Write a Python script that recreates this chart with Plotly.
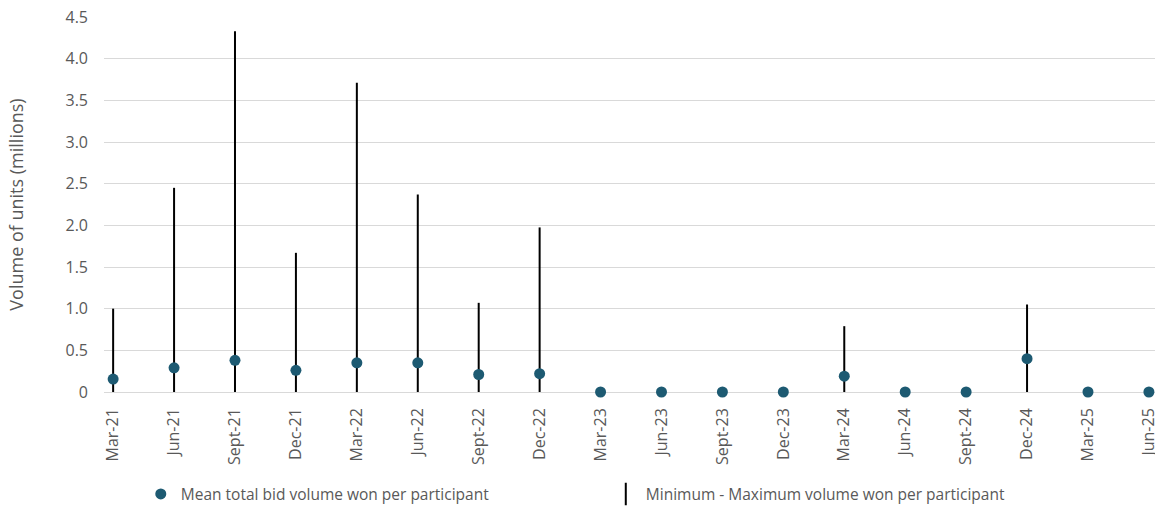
import plotly.graph_objects as go

categories = ["Mar-21", "Jun-21", "Sept-21", "Dec-21", "Mar-22", "Jun-22", "Sept-22", "Dec-22",
              "Mar-23", "Jun-23", "Sept-23", "Dec-23", "Mar-24", "Jun-24", "Sept-24", "Dec-24",
              "Mar-25", "Jun-25"]
mean_vol = [0.155, 0.29, 0.38, 0.26, 0.35, 0.35, 0.21, 0.22,
            0.0, 0.0, 0.0, 0.0, 0.19, 0.0, 0.0, 0.40, 0.0, 0.0]
min_vol = [0.0] * 18
max_vol = [1.0, 2.45, 4.33, 1.67, 3.71, 2.37, 1.07, 1.975,
           0.0, 0.0, 0.0, 0.0, 0.79, 0.0, 0.0, 1.05, 0.0, 0.0]

FONT = "Open Sans"
GREY = "#595959"
TEAL = "#1D5A72"

# build min-max segments from the arrays
seg_x, seg_y = [], []
for c, lo, hi in zip(categories, min_vol, max_vol):
    seg_x += [c, c, None]
    seg_y += [lo, hi, None]

fig = go.Figure()
fig.add_trace(go.Scatter(
    x=seg_x, y=seg_y, mode="lines",
    line=dict(color="black", width=2),
    showlegend=False, hoverinfo="skip", cliponaxis=False,
))
fig.add_trace(go.Scatter(
    x=categories, y=mean_vol, mode="markers",
    marker=dict(color=TEAL, size=11),
    name="Mean total bid volume won per participant",
    cliponaxis=False,
))
# legend entry for min-max lines
fig.add_trace(go.Scatter(
    x=[None], y=[None], mode="markers",
    marker=dict(symbol="line-ns", size=16, line=dict(color="black", width=2)),
    name="Minimum - Maximum volume won per participant",
))

fig.update_layout(
    width=1155, height=512,
    margin=dict(l=104, r=0, t=17, b=118),
    paper_bgcolor="white", plot_bgcolor="white",
    font=dict(family=FONT, size=14, color=GREY),
    legend=dict(
        orientation="h", x=0.035, y=-0.273, xanchor="left", yanchor="middle",
        entrywidth=420, entrywidthmode="pixels",
        font=dict(family=FONT, size=15.5, color=GREY),
        bgcolor="rgba(0,0,0,0)",
    ),
    xaxis=dict(
        type="category", categoryorder="array", categoryarray=categories,
        range=[-0.15, 17.1], automargin=False,
        tickangle=-90, showgrid=False, zeroline=False,
        showline=False, ticks="", ticklabelstandoff=12,
        ticklabeloverflow="allow",
        tickfont=dict(family=FONT, size=16, color=GREY),
    ),
    yaxis=dict(
        range=[0, 4.5], automargin=False,
        tickvals=[0, 0.5, 1, 1.5, 2, 2.5, 3, 3.5, 4, 4.5],
        ticktext=["0", "0.5", "1.0", "1.5", "2.0", "2.5", "3.0", "3.5", "4.0", "4.5"],
        showgrid=True, gridcolor="#D9D9D9", gridwidth=1.3,
        zeroline=True, zerolinecolor="#D9D9D9", zerolinewidth=1.3,
        ticks="", ticklabelstandoff=15,
        ticklabeloverflow="allow",
        tickfont=dict(family=FONT, size=16, color=GREY),
        title=dict(text="Volume of units (millions)", standoff=37,
                   font=dict(family=FONT, size=18, color=GREY)),
    ),
)

# remove the default 8px page margin so the figure fills the window exactly
fig.write_html("out.html",
               config={"displayModeBar": False},
               post_script="document.body.style.margin='0';document.body.style.overflow='hidden';")
